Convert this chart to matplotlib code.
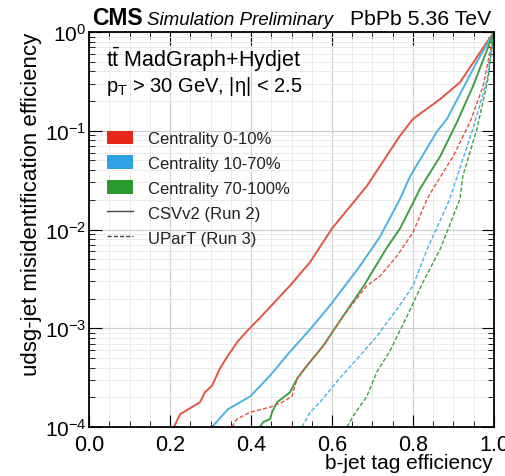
import numpy as np
import matplotlib
matplotlib.use("Agg")
import matplotlib.pyplot as plt
from matplotlib.patches import Patch
from matplotlib.lines import Line2D
from matplotlib.ticker import MultipleLocator, LogLocator, NullFormatter

plt.rcParams['font.family'] = ['Liberation Sans', 'DejaVu Sans']
plt.rcParams['mathtext.fontset'] = 'custom'
plt.rcParams['mathtext.rm'] = 'Liberation Sans'
plt.rcParams['mathtext.it'] = 'Liberation Sans:italic'
plt.rcParams['mathtext.bf'] = 'Liberation Sans:bold'

# ---- data: (b-jet efficiency, log10 misid) ----
csv_010_x = [0.21, 0.225, 0.274, 0.286, 0.304, 0.323, 0.341, 0.368, 0.390, 0.430, 0.496, 0.546, 0.600, 0.686, 0.768, 0.800, 0.867, 0.916, 0.983, 1.0]
csv_010_l = [-4.0, -3.87, -3.75, -3.65, -3.58, -3.41, -3.29, -3.13, -3.03, -2.86, -2.57, -2.33, -1.99, -1.56, -1.05, -0.88, -0.68, -0.51, -0.10, 0.0]

csv_1070_x = [0.304, 0.343, 0.398, 0.447, 0.496, 0.546, 0.595, 0.669, 0.719, 0.768, 0.793, 0.859, 0.884, 0.958, 1.0]
csv_1070_l = [-4.0, -3.82, -3.69, -3.48, -3.24, -3.01, -2.77, -2.37, -2.07, -1.69, -1.46, -1.01, -0.88, -0.30, 0.0]

csv_70100_x = [0.422, 0.430, 0.447, 0.452, 0.464, 0.496, 0.514, 0.538, 0.578, 0.627, 0.677, 0.736, 0.768, 0.805, 0.817, 0.867, 0.909, 0.948, 1.0]
csv_70100_l = [-4.0, -3.95, -3.92, -3.85, -3.75, -3.65, -3.51, -3.38, -3.18, -2.88, -2.58, -2.18, -1.99, -1.69, -1.59, -1.26, -0.91, -0.55, 0.0]

upart_010_x = [0.353, 0.365, 0.398, 0.447, 0.477, 0.501, 0.514, 0.538, 0.578, 0.627, 0.686, 0.719, 0.760, 0.800, 0.835, 0.849, 0.899, 0.941, 0.973, 1.0]
upart_010_l = [-4.0, -3.92, -3.85, -3.80, -3.75, -3.69, -3.51, -3.38, -3.18, -2.88, -2.57, -2.47, -2.27, -2.03, -1.69, -1.59, -1.26, -0.91, -0.55, 0.0]

upart_1070_x = [0.526, 0.546, 0.570, 0.612, 0.662, 0.711, 0.760, 0.800, 0.835, 0.891, 0.909, 0.948, 0.983, 1.0]
upart_1070_l = [-4.0, -3.85, -3.75, -3.54, -3.31, -3.08, -2.81, -2.57, -2.20, -1.69, -1.46, -0.98, -0.48, 0.0]

upart_70100_x = [0.637, 0.652, 0.686, 0.711, 0.743, 0.785, 0.825, 0.867, 0.916, 0.923, 0.958, 0.985, 1.0]
upart_70100_l = [-4.0, -3.89, -3.69, -3.44, -3.23, -2.88, -2.53, -2.20, -1.69, -1.46, -0.98, -0.48, 0.0]

centralities = ["Centrality 0-10%", "Centrality 10-70%", "Centrality 70-100%"]
colors = ["#e5281a", "#2ea3e3", "#2a9a2e"]
line_colors = ["#e35444", "#4cb2e2", "#3f9f42"]

fig = plt.figure(figsize=(5.06, 4.77), dpi=100)
ax = fig.add_axes([89/506, 49/477, 405/506, 395/477])

csv = [(csv_010_x, csv_010_l), (csv_1070_x, csv_1070_l), (csv_70100_x, csv_70100_l)]
upt = [(upart_010_x, upart_010_l), (upart_1070_x, upart_1070_l), (upart_70100_x, upart_70100_l)]
for (x, l), c in zip(csv, line_colors):
    ax.plot(x, 10**np.array(l), color=c, lw=1.4, ls='-')
for (x, l), c in zip(upt, line_colors):
    ax.plot(x, 10**np.array(l), color=c, lw=1.0, ls=(0, (3, 1.5)))

ax.set_yscale('log')
ax.set_xlim(0, 1)
ax.set_ylim(1e-4, 1)
ax.xaxis.set_major_locator(MultipleLocator(0.2))
ax.xaxis.set_minor_locator(MultipleLocator(0.05))
ax.xaxis.set_major_formatter(matplotlib.ticker.FormatStrFormatter('%.1f'))
ax.yaxis.set_major_locator(LogLocator(base=10, numticks=10))
ax.yaxis.set_minor_locator(LogLocator(base=10, subs=np.arange(2, 10), numticks=20))
ax.yaxis.set_minor_formatter(NullFormatter())

ax.grid(True, which='major', color='#d0d0d0', lw=0.9)
ax.grid(True, which='minor', color='#ebebeb', lw=0.7)
ax.set_axisbelow(True)
ax.tick_params(which='both', direction='in', top=True, right=True)
ax.tick_params(which='major', length=9, width=0.8)
ax.tick_params(which='minor', length=4.5, width=0.6)
ax.tick_params(axis='x', labelsize=15.5, pad=5)
ax.tick_params(axis='y', labelsize=15, pad=2)
for s in ax.spines.values():
    s.set_linewidth(1.3)

fig.text(493/506, 1 - 469/477, "b-jet tag efficiency", fontsize=15, ha='right', va='baseline')
ax.set_ylabel("udsg-jet misidentification efficiency", fontsize=16, loc='top', labelpad=2)

# header
fig.text(92/506, 1 - 25/477, "CMS", fontsize=16.5, fontweight='bold', va='baseline', ha='left')
fig.text(147/506, 1 - 25/477, "Simulation Preliminary", fontsize=13.5, style='italic', va='baseline', ha='left')
fig.text(491/506, 1 - 25/477, "PbPb 5.36 TeV", fontsize=15.3, va='baseline', ha='right')

ax.text(0.042, 0.914, r"$\mathregular{t\bar{t}}$ MadGraph+Hydjet", transform=ax.transAxes, fontsize=15.5, va='baseline')
ax.text(0.042, 0.851, r"$\mathregular{p_{T}}$ > 30 GeV, |η| < 2.5", transform=ax.transAxes, fontsize=14.5, va='baseline')

handles = [Patch(facecolor=c, edgecolor='none') for c in colors]
handles += [Line2D([], [], color='#444444', lw=1.0, ls='-'),
            Line2D([], [], color='#444444', lw=1.0, ls=(0, (3, 1.5)))]
labels = centralities + ["CSVv2 (Run 2)", "UParT (Run 3)"]
leg = ax.legend(handles, labels, loc='upper left', bbox_to_anchor=(0.035, 0.759), frameon=False,
                fontsize=12, handlelength=1.6, handleheight=0.85, labelspacing=0.57, handletextpad=0.9,
                borderaxespad=0, borderpad=0.2)
for t in leg.get_texts():
    t.set_color('#222222')

fig.savefig("out.png", dpi=100)
